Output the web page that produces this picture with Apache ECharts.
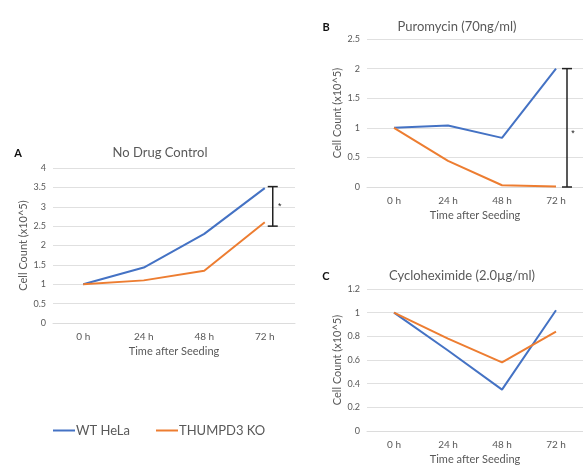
<!DOCTYPE html>
<html>
<head>
<meta charset="utf-8">
<script src="https://cdn.jsdelivr.net/npm/echarts@6/dist/echarts.min.js"></script>
<style>
  html, body { margin: 0; padding: 0; background: #fff; }
  #chart { width: 583px; height: 466px; }
</style>
</head>
<body>
<div id="chart"></div>
<script>
// categories shared by all three panels
var timePoints = ['0 h', '24 h', '48 h', '72 h'];

// A - no drug control
var ctrlWT = [1, 1.43, 2.3, 3.48];
var ctrlKO = [1, 1.1, 1.35, 2.6];
var ctrlErr = [3, 2.5, 3.52, 3.0]; // [category, low, high, star]

// B - puromycin
var puroWT = [1, 1.04, 0.83, 2.0];
var puroKO = [1, 0.44, 0.03, 0.01];
var puroErr = [3, 0, 2.0, 0.9];

// C - cycloheximide
var chxWT = [1, 0.68, 0.35, 1.02];
var chxKO = [1, 0.78, 0.58, 0.84];

var blue = '#4472c4';
var orange = '#ed7d31';
var grey = '#595959';
var font = 'Lato';

function xAxisFor(i) {
  return {
    type: 'category',
    gridIndex: i,
    data: timePoints,
    name: 'Time after Seeding',
    nameLocation: 'middle',
    nameGap: 23,
    nameTextStyle: { color: grey, fontSize: 11, fontFamily: font },
    axisLine: { show: true, lineStyle: { color: '#dcdcdc' } },
    axisTick: { show: false },
    axisLabel: { color: grey, fontSize: 10, fontFamily: font, margin: 9 }
  };
}

function yAxisFor(i, max, step) {
  return {
    type: 'value',
    gridIndex: i,
    min: 0,
    max: max,
    interval: step,
    name: 'Cell Count (x10^5)',
    nameLocation: 'middle',
    nameGap: 24,
    nameMoveOverlap: false,
    nameTextStyle: { color: grey, fontSize: 11, fontFamily: font },
    axisLine: { show: false },
    axisTick: { show: false },
    splitLine: { lineStyle: { color: '#e0e0e0' } },
    axisLabel: { color: grey, fontSize: 9, fontFamily: font, margin: 7 }
  };
}

function lineSeries(name, data, color, i) {
  return {
    name: name,
    type: 'line',
    xAxisIndex: i,
    yAxisIndex: i,
    data: data,
    symbol: 'none',
    lineStyle: { color: color, width: 2 },
    itemStyle: { color: color }
  };
}

// error bar with star, drawn a few px right of the 72 h point
function errSeries(err, i, barOff, starOff) {
  return {
    type: 'custom',
    xAxisIndex: i,
    yAxisIndex: i,
    data: [err],
    encode: { x: 0, y: [1, 2] },
    renderItem: function (params, api) {
      var lo = api.coord([api.value(0), api.value(1)]);
      var hi = api.coord([api.value(0), api.value(2)]);
      var st = api.coord([api.value(0), api.value(3)]);
      var x = lo[0] + barOff;
      var style = { stroke: '#222', lineWidth: 1.5 };
      return {
        type: 'group',
        children: [
          { type: 'line', shape: { x1: x, y1: lo[1], x2: x, y2: hi[1] }, style: style },
          { type: 'line', shape: { x1: x - 5, y1: lo[1], x2: x + 5, y2: lo[1] }, style: style },
          { type: 'line', shape: { x1: x - 5, y1: hi[1], x2: x + 5, y2: hi[1] }, style: style },
          { type: 'text', style: { x: st[0] + starOff, y: st[1], text: '*', fill: '#222',
              fontSize: 9, align: 'center', verticalAlign: 'middle' } }
        ]
      };
    }
  };
}

function titleAt(text, x, y, size, bold) {
  return {
    text: text,
    left: x,
    top: y,
    textAlign: 'center',
    textVerticalAlign: 'middle',
    textStyle: { color: bold ? '#111' : grey, fontSize: size,
      fontWeight: bold ? 'bold' : 'normal', fontFamily: font }
  };
}

var chart = echarts.init(document.getElementById('chart'));
chart.setOption({
  animation: false,
  backgroundColor: '#fff',
  title: [
    titleAt('A', 13, 148, 11, true),
    titleAt('No Drug Control', 155, 148, 13, false),
    titleAt('B', 321, 22, 11, true),
    titleAt('Puromycin (70ng/ml)', 452, 22, 13, false),
    titleAt('C', 321, 271, 11, true),
    titleAt('Cycloheximide (2.0\u00b5g/ml)', 457, 271, 13, false)
  ],
  legend: {
    left: 48,
    top: 419,
    itemWidth: 22,
    itemHeight: 2,
    itemGap: 26,
    icon: 'rect',
    data: ['WT HeLa', 'THUMPD3 KO'],
    textStyle: { color: grey, fontSize: 13, fontFamily: font, padding: [0, 0, 0, -4] }
  },
  grid: [
    { left: 53, top: 168, width: 242, height: 155 },
    { left: 367, top: 39, width: 220, height: 148 },
    { left: 367, top: 289, width: 220, height: 148 }
  ],
  xAxis: [xAxisFor(0), xAxisFor(1), xAxisFor(2)],
  yAxis: [yAxisFor(0, 4, 0.5), yAxisFor(1, 2.5, 0.5), yAxisFor(2, 1.2, 0.2)],
  series: [
    lineSeries('WT HeLa', ctrlWT, blue, 0),
    lineSeries('THUMPD3 KO', ctrlKO, orange, 0),
    lineSeries('WT HeLa', puroWT, blue, 1),
    lineSeries('THUMPD3 KO', puroKO, orange, 1),
    lineSeries('WT HeLa', chxWT, blue, 2),
    lineSeries('THUMPD3 KO', chxKO, orange, 2),
    errSeries(ctrlErr, 0, 8, 15),
    errSeries(puroErr, 1, 11, 17)
  ]
});
</script>
</body>
</html>
